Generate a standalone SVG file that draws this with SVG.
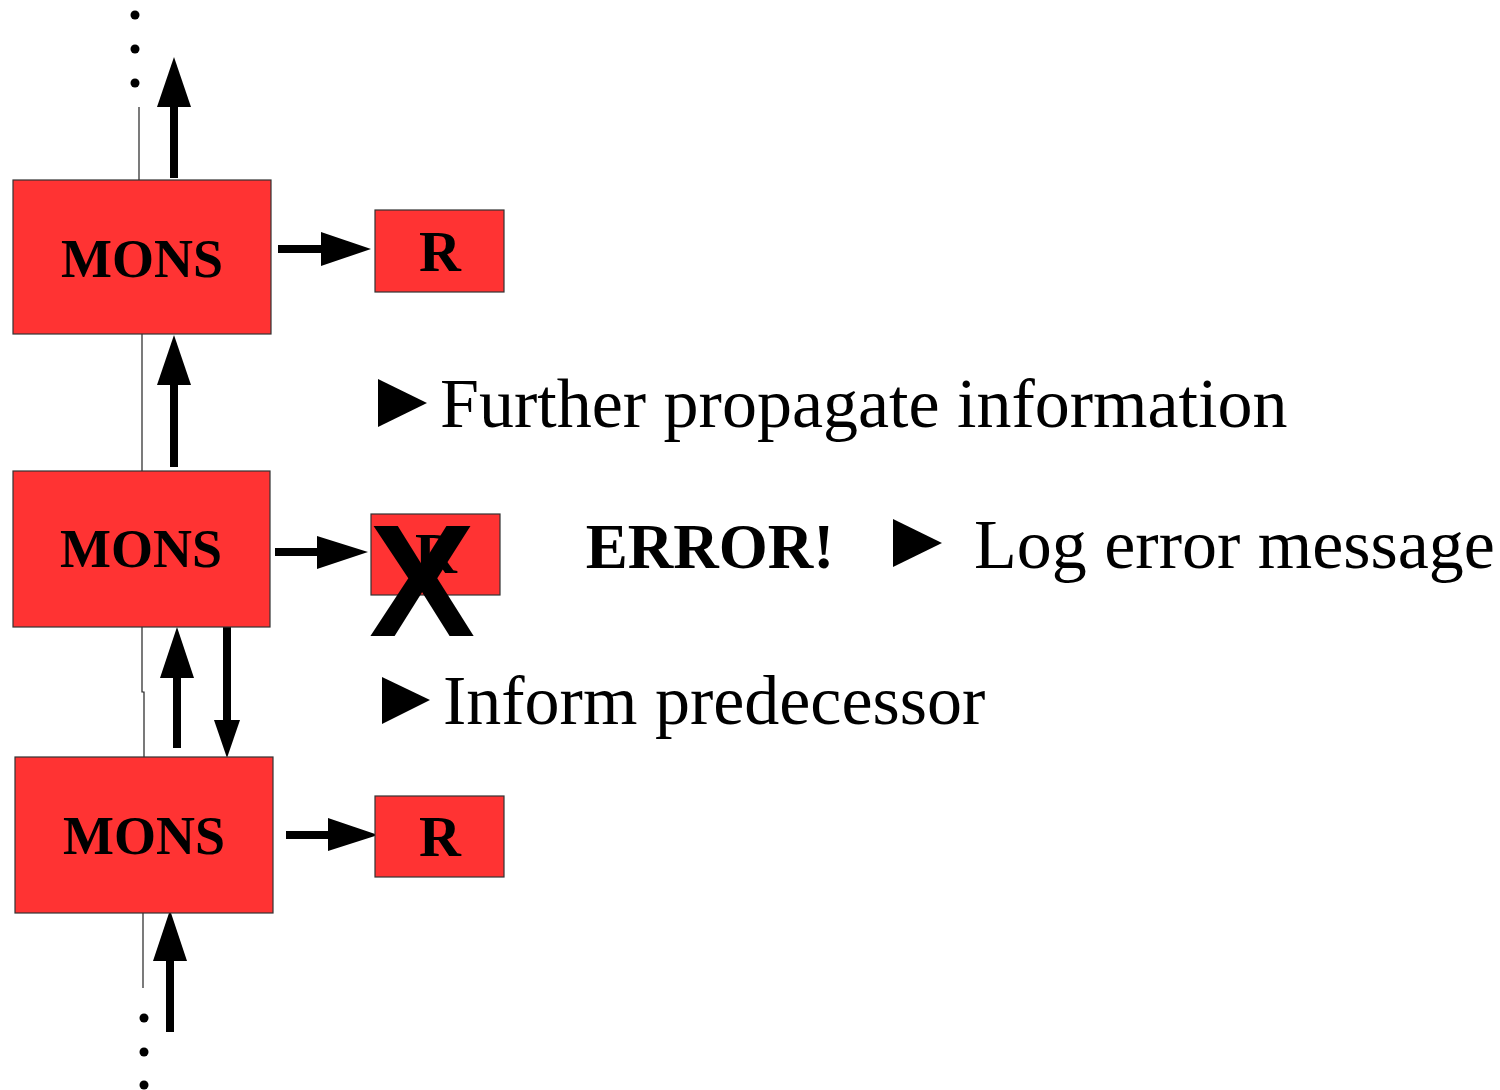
<svg xmlns="http://www.w3.org/2000/svg" width="1500" height="1090" viewBox="0 0 1500 1090">
<style>
.box{fill:#ff3333;stroke:#333;stroke-width:1.2}
.lbl{font-family:"Liberation Serif","Times New Roman",serif;font-weight:bold;text-anchor:middle;fill:#000}
.txt{font-family:"Liberation Serif","Times New Roman",serif;font-size:70px;fill:#000}
.shaft{stroke:#000;stroke-width:8;fill:none}
.thin{stroke:#222;stroke-width:1.2;fill:none}
.head{fill:#000}
</style>
<rect width="1500" height="1090" fill="#fff"/>
<g id="connectors">
  <g id="dots">
    <circle cx="135" cy="15" r="4.5"/><circle cx="135" cy="49" r="4.5"/><circle cx="135" cy="83" r="4.5"/>
    <circle cx="144" cy="1018" r="4.5"/><circle cx="144" cy="1052" r="4.5"/><circle cx="144" cy="1085" r="4.5"/>
  </g>
  <path class="thin" d="M139,107 V184"/>
  <path class="thin" d="M142,334 V471" stroke-width="2"/>
  <path class="thin" d="M142,627 V692 H144 V757"/>
  <path class="thin" d="M143,910 V988"/>
  <path class="shaft" d="M174,178 V105"/><polygon class="head" points="174,57 157,107 191,107"/>
  <path class="shaft" d="M174,467 V383"/><polygon class="head" points="174,335 157,385 191,385"/>
  <path class="shaft" d="M177,748 V676"/><polygon class="head" points="177,627 160,678 194,678"/>
  <path class="shaft" d="M227,624 V722"/><polygon class="head" points="227,758 214,720 240,720"/>
  <path class="shaft" d="M170,1032 V959"/><polygon class="head" points="170,910 153,961 187,961"/>
  <path class="shaft" d="M278,249 H323"/><polygon class="head" points="371,249 321,232 321,266"/>
  <path class="shaft" d="M275,552 H319"/><polygon class="head" points="368,552 317,536 317,569"/>
  <path class="shaft" d="M286,835 H330"/><polygon class="head" points="378,835 328,818 328,851"/>
</g>
<g id="mons1"><rect class="box" x="13" y="180" width="258" height="154"/><text class="lbl" x="142" y="277" font-size="54">MONS</text></g>
<g id="mons2"><rect class="box" x="13" y="471" width="257" height="156"/><text class="lbl" x="141" y="567" font-size="54">MONS</text></g>
<g id="mons3"><rect class="box" x="15" y="757" width="258" height="156"/><text class="lbl" x="144" y="854" font-size="54">MONS</text></g>
<g id="r1"><rect class="box" x="375" y="210" width="129" height="82"/><text class="lbl" x="440" y="271" font-size="58">R</text></g>
<g id="r2"><rect class="box" x="371" y="514" width="129" height="81"/><text class="lbl" x="436" y="573" font-size="58">R</text>
  <text x="422" y="636" font-family="Liberation Sans, Arial, sans-serif" font-weight="bold" font-size="159" text-anchor="middle">X</text></g>
<g id="r3"><rect class="box" x="375" y="796" width="129" height="81"/><text class="lbl" x="440" y="856" font-size="58">R</text></g>
<g id="further"><polygon points="378,379 427,403 378,427"/><text class="txt" x="440" y="427">Further propagate information</text></g>
<g id="error"><text class="lbl" x="710" y="568" font-size="63">ERROR!</text></g>
<g id="log"><polygon points="893,519 942,543 893,567"/><text class="txt" x="974" y="568" font-size="69">Log error message</text></g>
<g id="inform"><polygon points="382,677 430,700 382,724"/><text class="txt" x="443" y="724">Inform predecessor</text></g>
</svg>
